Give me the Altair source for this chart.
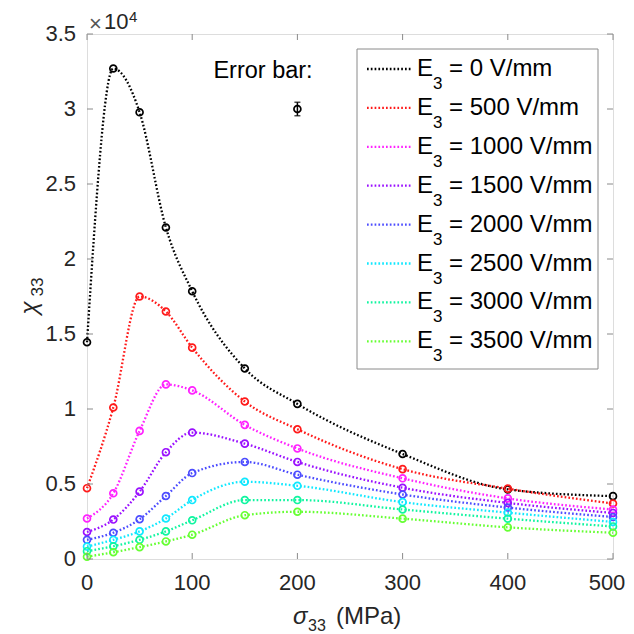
import altair as alt
import pandas as pd

# ---------------- data ----------------
sigma = [0, 25, 50, 75, 100, 150, 200, 300, 400, 500]
e_fields = [0, 500, 1000, 1500, 2000, 2500, 3000, 3500]

chi_0 = [14450, 32700, 29780, 22100, 17850, 12700, 10340, 7000, 4640, 4190]
chi_500 = [4720, 10100, 17500, 16500, 14090, 10500, 8650, 5990, 4690, 3700]
chi_1000 = [2700, 4380, 8540, 11640, 11240, 8940, 7370, 5380, 4040, 3300]
chi_1500 = [1800, 2630, 4490, 7120, 8430, 7690, 6470, 4750, 3740, 3070]
chi_2000 = [1280, 1750, 2650, 4200, 5730, 6470, 5620, 4300, 3430, 2800]
chi_2500 = [830, 1280, 1840, 2700, 3930, 5150, 4880, 3790, 3090, 2470]
chi_3000 = [520, 850, 1280, 1840, 2580, 3930, 3930, 3300, 2690, 2170]
chi_3500 = [150, 450, 790, 1170, 1620, 2920, 3150, 2690, 2110, 1750]

colors = ["#000000", "#ff1a1a", "#ff22ff", "#9a10ff", "#4d4dff", "#10e8ff", "#10f5a0", "#66ff33"]

x_ticks = [0, 100, 200, 300, 400, 500]
y_ticks = [0, 5000, 10000, 15000, 20000, 25000, 30000, 35000]

err_x = [200]
err_y = [30000]
err_half = [450]

# ---------------- tables ----------------
series = [chi_0, chi_500, chi_1000, chi_1500, chi_2000, chi_2500, chi_3000, chi_3500]
df = pd.DataFrame(
    [{"sigma": s, "chi": v, "E": e} for e, vals in zip(e_fields, series) for s, v in zip(sigma, vals)]
)
leg = pd.DataFrame({"E": e_fields, "row": list(range(len(e_fields))),
                    "label": [f"= {e} V/mm" for e in e_fields]})
err = pd.DataFrame({"x": err_x, "y": err_y, "lo": [a - b for a, b in zip(err_y, err_half)],
                    "hi": [a + b for a, b in zip(err_y, err_half)]})
xt = pd.DataFrame({"v": x_ticks})
yt = pd.DataFrame({"v": y_ticks})

FONT = "Liberation Sans"
W, H = 526, 525
XMAX, YMAX = 500, 35000
GRAY = "#8a8a8a"
LBL = "#262626"

xs = alt.Scale(domain=[0, XMAX], nice=False, zero=False)
ys = alt.Scale(domain=[0, YMAX], nice=False, zero=False)
col = alt.Color("E:N", scale=alt.Scale(domain=e_fields, range=colors), legend=None)


def X(f):
    return alt.X(f, scale=xs, axis=None)


def Y(f):
    return alt.Y(f, scale=ys, axis=None)


base = alt.Chart(df)
lines = base.mark_line(interpolate="monotone", strokeDash=[1.7, 2.1], strokeWidth=2.3,
                       strokeCap="butt").encode(
    x=X("sigma:Q"), y=Y("chi:Q"), color=col, detail="E:N")
points = base.mark_point(shape="circle", filled=False, size=48, strokeWidth=1.7, opacity=1).encode(
    x=X("sigma:Q"), y=Y("chi:Q"), color=col)

# inward ticks
tb = alt.Chart(xt).mark_rule(color=GRAY, strokeWidth=1).encode(
    x=X("v:Q"), y=alt.value(H), y2=alt.value(H - 6))
tt = alt.Chart(xt).mark_rule(color=GRAY, strokeWidth=1).encode(
    x=X("v:Q"), y=alt.value(0), y2=alt.value(6))
tl = alt.Chart(yt).mark_rule(color=GRAY, strokeWidth=1).encode(
    y=Y("v:Q"), x=alt.value(0), x2=alt.value(6))
tr = alt.Chart(yt).mark_rule(color=GRAY, strokeWidth=1).encode(
    y=Y("v:Q"), x=alt.value(W), x2=alt.value(W - 6))

# tick labels (the last one nudged in so it is not clipped by the page edge)
xl = alt.Chart(xt).transform_filter(f"datum.v < {XMAX}").mark_text(
    fontSize=22, font=FONT, color=LBL, align="center", baseline="middle").encode(
    x=X("v:Q"), y=alt.value(H + 24), text="v:Q")
xl_last = alt.Chart(xt).transform_filter(f"datum.v == {XMAX}").mark_text(
    fontSize=22, font=FONT, color=LBL, align="center", baseline="middle", dx=-6).encode(
    x=X("v:Q"), y=alt.value(H + 24), text="v:Q")
yl = alt.Chart(yt).transform_calculate(lab="'' + datum.v / 10000").mark_text(
    fontSize=22, font=FONT, color=LBL, align="right", baseline="middle").encode(
    y=Y("v:Q"), x=alt.value(-11), text="lab:N")

# error bar
eb = alt.Chart(err)
eb_rule = eb.mark_rule(color="black", strokeWidth=1.5).encode(
    x=X("x:Q"), y=Y("lo:Q"), y2="hi:Q")
eb_cap1 = eb.mark_tick(orient="horizontal", color="black", size=6, thickness=1.5).encode(
    x=X("x:Q"), y=Y("lo:Q"))
eb_cap2 = eb.mark_tick(orient="horizontal", color="black", size=6, thickness=1.5).encode(
    x=X("x:Q"), y=Y("hi:Q"))
eb_pt = eb.mark_point(shape="circle", filled=False, size=48, strokeWidth=1.7, color="black",
                      opacity=1).encode(x=X("x:Q"), y=Y("y:Q"))


def txt(s, x, y, size, **kw):
    return alt.Chart(alt.Data(values=[{}])).mark_text(
        text=s, fontSize=size, font=FONT, **kw).encode(x=alt.value(x), y=alt.value(y))


# legend
box = alt.Chart(alt.Data(values=[{}])).mark_rect(fill="white", stroke=GRAY, strokeWidth=1).encode(
    x=alt.value(270), x2=alt.value(511), y=alt.value(15), y2=alt.value(335))
lg = alt.Chart(leg).transform_calculate(
    ly=f"{YMAX} * (1 - (35 + datum.row * 38.9) / {H})",
    lsub=f"{YMAX} * (1 - (50 + datum.row * 38.9) / {H})")
lg_line = lg.mark_rule(strokeDash=[1.7, 2.1], strokeWidth=2.3, strokeCap="butt").encode(
    x=alt.value(280), x2=alt.value(325), y=Y("ly:Q"), color=col)
lg_E = lg.mark_text(text="E", fontSize=24, font=FONT, align="left", baseline="middle",
                    color="black").encode(x=alt.value(330), y=Y("ly:Q"))
lg_sub = lg.mark_text(text="3", fontSize=17, font=FONT, align="left", baseline="middle",
                      color="black").encode(x=alt.value(346), y=Y("lsub:Q"))
lg_lab = lg.mark_text(fontSize=24, font=FONT, align="left", baseline="middle",
                      color="black").encode(x=alt.value(362), y=Y("ly:Q"), text="label:N")

annots = [
    txt("Error bar:", 176, 37, 23.5, align="center", baseline="middle", color="black"),
    txt("×", 2, -10, 22, align="left", baseline="middle", color="#555555"),
    txt("10", 17, -12, 22, align="left", baseline="middle", color=LBL),
    txt("4", 42, -17, 15, align="left", baseline="middle", color=LBL),
    txt("σ", 206, 583, 24, align="left", baseline="middle", color=LBL, fontStyle="italic"),
    txt("33", 221, 592, 16, align="left", baseline="middle", color=LBL),
    txt("(MPa)", 249, 583, 24, align="left", baseline="middle", color=LBL),
    txt("χ", -57, 274, 24, align="center", baseline="middle", color=LBL, angle=270,
        fontStyle="italic"),
    txt("33", -49, 253, 17, align="center", baseline="middle", color=LBL, angle=270),
]

chart = alt.layer(
    lines, points, tb, tt, tl, tr, xl, xl_last, yl, eb_rule, eb_cap1, eb_cap2, eb_pt,
    box, lg_line, lg_E, lg_sub, lg_lab, *annots
).properties(
    width=W, height=H,
    autosize=alt.AutoSizeParams(type="none"),
    padding={"left": 79, "top": 26, "right": 13, "bottom": 80},
).configure_view(stroke=GRAY, strokeWidth=1.2).configure(background="white")

chart.save("out.html", embed_options={"renderer": "svg", "actions": False})
